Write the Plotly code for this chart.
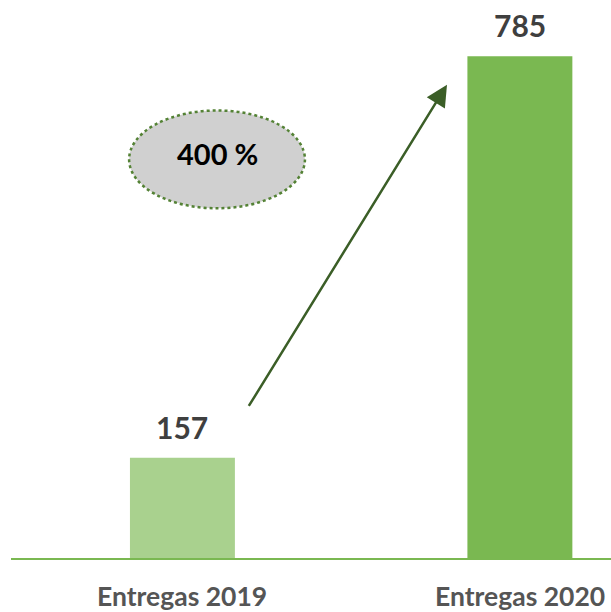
import plotly.graph_objects as go

categories = ["Entregas 2019", "Entregas 2020"]
values = [157, 785]
value_labels = ["157", "785"]
bar_colors = ["#a9d18e", "#7ab851"]
growth_label = "400 %"

xs = list(range(len(categories)))

fig = go.Figure()
fig.add_trace(go.Bar(
    x=xs, y=values, width=0.311,
    marker=dict(color=bar_colors, line=dict(width=0)),
    hoverinfo="skip",
))

FONT = "Lato, 'Open Sans', sans-serif"

# value labels above bars
for x, v, t in zip(xs, values, value_labels):
    fig.add_annotation(x=x, y=v, text=f"<b>{t}</b>", showarrow=False,
                       yanchor="middle", yshift=31,
                       font=dict(family=FONT, size=30, color="#3f3f3f"))

# category labels below axis
for x, c in zip(xs, categories):
    fig.add_annotation(x=x, y=0, text=f"<b>{c}</b>", showarrow=False,
                       yanchor="middle", yshift=-38,
                       font=dict(family=FONT, size=26.5, color="#555555"))

# growth arrow
fig.add_annotation(
    x=0.784, y=values[1] * 0.943, ax=0.194, ay=values[0] * 1.5,
    xref="x", yref="y", axref="x", ayref="y",
    showarrow=True, arrowhead=2, arrowsize=1.7, arrowwidth=2.5,
    arrowcolor="#3b5e27", text="",
)

# ellipse with growth label
fig.add_shape(type="circle", xref="x", yref="y",
              x0=-0.158, x1=0.363, y0=547, y1=700,
              fillcolor="#d0d0d0",
              line=dict(color="#548235", width=2.5, dash="dot"),
              layer="above")
fig.add_annotation(x=0.1025, y=633, text=f"<b>{growth_label}</b>", showarrow=False,
                   font=dict(family=FONT, size=29, color="#000000"))

fig.update_layout(
    width=611, height=612,
    margin=dict(l=11, r=0, t=0, b=54),
    paper_bgcolor="white", plot_bgcolor="white",
    showlegend=False,
    xaxis=dict(range=[-0.508, 1.270], showgrid=False, zeroline=False,
               showticklabels=False, ticks="", showline=True,
               linecolor="#7ab851", linewidth=1.5, fixedrange=True),
    yaxis=dict(range=[0, 872.8], showgrid=False, zeroline=False,
               showticklabels=False, ticks="", showline=False, fixedrange=True),
)

fig.write_html("out.html")
